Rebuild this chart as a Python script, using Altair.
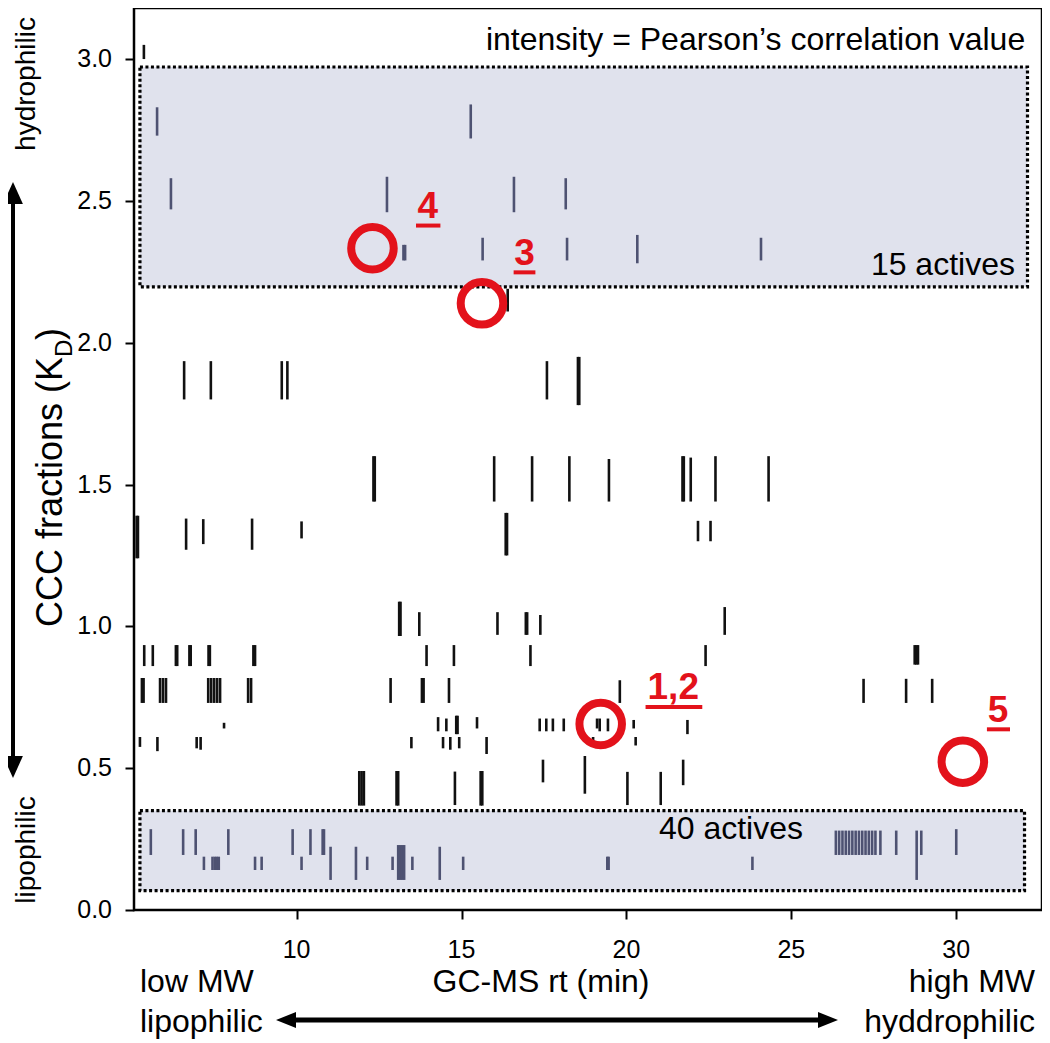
import altair as alt
import pandas as pd

FONT = "Liberation Sans"
RED = "#e3121b"

# ---------------- data ----------------
# peaks outside the shaded "active" regions: (rt [min], KD low, KD high)
other_peaks = [
    (5.37, 3.00, 3.05), (16.40, 2.11, 2.19),
    # ~1.8-1.94
    (6.59, 1.80, 1.935), (7.40, 1.80, 1.935), (9.55, 1.80, 1.935), (9.72, 1.80, 1.935),
    (17.59, 1.80, 1.935), (18.53, 1.78, 1.95), (18.57, 1.78, 1.95),
    # ~1.44-1.60
    (12.33, 1.44, 1.60), (12.37, 1.44, 1.60), (15.99, 1.44, 1.60), (17.14, 1.44, 1.60),
    (18.27, 1.44, 1.60), (19.47, 1.44, 1.59), (21.70, 1.44, 1.60), (21.74, 1.44, 1.60),
    (21.95, 1.44, 1.595), (22.70, 1.44, 1.60), (24.31, 1.44, 1.60),
    # ~1.25-1.39
    (5.15, 1.24, 1.39), (5.19, 1.24, 1.39), (6.65, 1.27, 1.38), (7.17, 1.29, 1.378),
    (8.65, 1.27, 1.38), (10.15, 1.31, 1.37), (16.34, 1.25, 1.40), (16.38, 1.25, 1.40),
    (22.17, 1.30, 1.372), (22.55, 1.30, 1.372),
    # ~0.97-1.08
    (13.11, 0.966, 1.087), (13.15, 0.966, 1.087), (13.72, 0.966, 1.05), (16.09, 0.97, 1.05),
    (16.95, 0.97, 1.05), (16.99, 0.97, 1.05), (17.39, 0.97, 1.04), (22.98, 0.97, 1.068),
    # ~0.86-0.93
    (5.38, 0.86, 0.934), (5.64, 0.86, 0.934), (6.34, 0.86, 0.934), (6.38, 0.86, 0.934),
    (6.75, 0.86, 0.934), (6.79, 0.86, 0.934), (7.33, 0.86, 0.934), (7.37, 0.86, 0.934),
    (8.69, 0.86, 0.934), (8.74, 0.86, 0.934), (13.94, 0.86, 0.934), (14.77, 0.86, 0.934),
    (17.09, 0.86, 0.934), (22.40, 0.86, 0.934), (28.74, 0.865, 0.934), (28.79, 0.865, 0.934),
    (28.84, 0.865, 0.934),
    # ~0.73-0.82
    (5.31, 0.73, 0.818), (5.36, 0.73, 0.818), (5.86, 0.73, 0.818), (5.95, 0.73, 0.818),
    (6.04, 0.73, 0.818), (7.32, 0.73, 0.818), (7.41, 0.73, 0.818), (7.50, 0.73, 0.818),
    (7.59, 0.73, 0.818), (7.68, 0.73, 0.818), (8.53, 0.73, 0.818), (8.62, 0.73, 0.818),
    (12.85, 0.73, 0.818), (13.80, 0.73, 0.818), (13.85, 0.73, 0.818), (14.62, 0.73, 0.818),
    (19.80, 0.73, 0.81), (27.19, 0.73, 0.815), (28.48, 0.73, 0.815), (29.27, 0.73, 0.815),
    # ~0.63-0.68
    (7.80, 0.64, 0.66), (14.29, 0.63, 0.68), (14.54, 0.63, 0.675), (14.84, 0.62, 0.685),
    (14.88, 0.62, 0.685), (15.47, 0.64, 0.68), (17.37, 0.63, 0.675), (17.57, 0.63, 0.675),
    (17.77, 0.63, 0.675), (18.10, 0.63, 0.675), (19.11, 0.64, 0.675), (19.19, 0.63, 0.675),
    (19.44, 0.63, 0.675), (20.22, 0.64, 0.67), (21.85, 0.62, 0.67),
    # ~0.56-0.61
    (5.25, 0.575, 0.61), (5.78, 0.56, 0.61), (6.97, 0.57, 0.61), (7.09, 0.565, 0.61),
    (13.48, 0.57, 0.61), (14.44, 0.57, 0.61), (14.66, 0.565, 0.61), (14.93, 0.57, 0.61),
    (15.76, 0.55, 0.61), (18.99, 0.595, 0.61), (20.28, 0.58, 0.61),
    # ~0.41-0.54
    (17.47, 0.45, 0.53), (18.74, 0.41, 0.543), (21.72, 0.44, 0.53),
    # ~0.37-0.49
    (11.90, 0.368, 0.49), (11.97, 0.368, 0.49), (12.04, 0.368, 0.49), (13.03, 0.368, 0.49),
    (13.08, 0.368, 0.49), (14.80, 0.37, 0.488), (15.58, 0.368, 0.49), (15.63, 0.368, 0.49),
    (20.03, 0.37, 0.487), (21.04, 0.37, 0.487),
]

# peaks inside the upper shaded region ("15 actives")
top_active_peaks = [
    (5.77, 2.73, 2.83), (6.19, 2.47, 2.58), (15.28, 2.72, 2.84), (12.74, 2.46, 2.585),
    (16.59, 2.46, 2.585), (18.16, 2.47, 2.58), (13.24, 2.29, 2.345), (13.29, 2.29, 2.345),
    (15.64, 2.29, 2.37), (18.20, 2.29, 2.37), (20.33, 2.28, 2.38), (24.08, 2.29, 2.37),
]

# peaks inside the lower shaded region ("40 actives")
bottom_active_peaks = [
    (5.58, 0.194, 0.285), (6.56, 0.194, 0.285), (6.94, 0.194, 0.285), (7.93, 0.194, 0.285),
    (9.88, 0.194, 0.285), (10.42, 0.194, 0.285), (10.79, 0.194, 0.285), (10.83, 0.194, 0.285),
    (26.35, 0.194, 0.28), (26.45, 0.194, 0.28), (26.55, 0.194, 0.28), (26.65, 0.194, 0.28),
    (26.75, 0.194, 0.28), (26.85, 0.194, 0.28), (26.95, 0.194, 0.28), (27.05, 0.194, 0.28),
    (27.15, 0.194, 0.28), (27.25, 0.194, 0.28), (27.35, 0.194, 0.28), (27.45, 0.194, 0.28),
    (27.55, 0.194, 0.28), (27.70, 0.194, 0.28), (28.18, 0.194, 0.28), (28.94, 0.194, 0.28),
    (30.00, 0.194, 0.285),
    (7.19, 0.141, 0.188), (7.45, 0.141, 0.188), (7.52, 0.141, 0.188), (7.58, 0.141, 0.188),
    (7.64, 0.141, 0.188), (8.74, 0.141, 0.188), (8.94, 0.141, 0.188), (10.15, 0.141, 0.188),
    (12.14, 0.141, 0.188), (12.91, 0.141, 0.188), (13.51, 0.141, 0.188), (15.05, 0.141, 0.188),
    (19.42, 0.141, 0.188), (19.46, 0.141, 0.188), (23.82, 0.141, 0.188),
    (11.03, 0.106, 0.223), (11.80, 0.106, 0.223), (13.08, 0.106, 0.229), (13.14, 0.106, 0.229),
    (13.20, 0.106, 0.229), (13.26, 0.106, 0.229), (14.34, 0.106, 0.223), (28.80, 0.106, 0.28),
]

# shaded "active" regions
box_rt_lo = [5.25, 5.25]
box_rt_hi = [32.16, 32.07]
box_kd_lo = [2.197, 0.068]
box_kd_hi = [2.972, 0.350]
box_text = ["15 actives", "40 actives"]
box_text_rt = [31.78, 23.17]
box_text_kd = [2.239, 0.25]

# highlighted compounds
cmp_label = ["4", "3", "1,2", "5"]
cmp_rt = [12.30, 15.62, 19.22, 30.20]
cmp_kd = [2.333, 2.139, 0.656, 0.523]
cmp_label_rt = [13.98, 16.91, 21.42, 31.27]
cmp_label_kd = [2.44, 2.274, 0.745, 0.662]
cmp_line_lo = [13.62, 16.58, 20.58, 30.93]
cmp_line_hi = [14.36, 17.24, 22.30, 31.63]
cmp_line_kd = [2.413, 2.248, 0.716, 0.637]

x_ticks = [10, 15, 20, 25, 30]
x_tick_labels = ["10", "15", "20", "25", "30"]
y_ticks = [0.0, 0.5, 1.0, 1.5, 2.0, 2.5, 3.0]
y_tick_labels = ["0.0", "0.5", "1.0", "1.5", "2.0", "2.5", "3.0"]

# ---------------- frames ----------------
rows = []
for name, lst in [("other", other_peaks), ("top", top_active_peaks), ("bottom", bottom_active_peaks)]:
    for rt, lo, hi in lst:
        rows.append({"rt": rt, "kd_lo": lo, "kd_hi": hi, "set": name})
peaks = pd.DataFrame(rows)

boxes = pd.DataFrame({"x0": box_rt_lo, "x1": box_rt_hi, "y0": box_kd_lo, "y1": box_kd_hi})
box_labels = pd.DataFrame({"t": box_text, "x": box_text_rt, "y": box_text_kd})
cmp = pd.DataFrame({"t": cmp_label, "x": cmp_rt, "y": cmp_kd, "lx": cmp_label_rt,
                    "ly": cmp_label_kd, "u0": cmp_line_lo, "u1": cmp_line_hi, "uy": cmp_line_kd})
xt = pd.DataFrame({"v": x_ticks, "t": x_tick_labels})
yt = pd.DataFrame({"v": y_ticks, "t": y_tick_labels})
one = pd.DataFrame({"k": [0]})

W, H = 908, 902
xs = alt.Scale(domain=[5.07, 32.6], nice=False, zero=False)
ys = alt.Scale(domain=[0, 3.18], nice=False, zero=False)


def x_axis():
    return alt.Axis(values=x_ticks, title=None, labels=False, grid=False, domain=False,
                    tickColor="black", tickSize=9, tickWidth=2)


def y_axis():
    return alt.Axis(values=y_ticks, title=None, labels=False, grid=False, domain=False,
                    tickColor="black", tickSize=9, tickWidth=2)


box_layer = alt.Chart(boxes).mark_rect(fill="#e0e2ed", stroke="black", strokeDash=[3, 2.5],
                                        strokeWidth=3.2).encode(
    x=alt.X("x0:Q", scale=xs, axis=x_axis()), x2="x1:Q",
    y=alt.Y("y0:Q", scale=ys, axis=y_axis()), y2="y1:Q")

peak_layer = alt.Chart(peaks).mark_rule(strokeWidth=2.6).encode(
    x=alt.X("rt:Q", scale=xs, axis=x_axis()),
    y=alt.Y("kd_lo:Q", scale=ys, axis=y_axis()), y2="kd_hi:Q",
    color=alt.Color("set:N", scale=alt.Scale(domain=["other", "top", "bottom"],
                                             range=["#111111", "#4e5272", "#4e5272"]), legend=None))

# tick labels (drawn as text so that their size is exact)
x_labels = alt.Chart(xt).mark_text(font=FONT, fontSize=25, align="center", baseline="alphabetic",
                                   color="black").encode(
    x=alt.X("v:Q", scale=xs, axis=x_axis()), y=alt.value(950), text="t:N")
y_labels = alt.Chart(yt).mark_text(font=FONT, fontSize=25, align="right", baseline="middle",
                                   color="black").encode(
    y=alt.Y("v:Q", scale=ys, axis=y_axis()), x=alt.value(-22), text="t:N")

box_text_a = alt.Chart(box_labels.iloc[[0]]).mark_text(font=FONT, fontSize=32, align="right",
                                                        baseline="alphabetic", color="black").encode(
    x=alt.X("x:Q", scale=xs), y=alt.Y("y:Q", scale=ys), text="t:N")
box_text_b = alt.Chart(box_labels.iloc[[1]]).mark_text(font=FONT, fontSize=32, align="center",
                                                        baseline="alphabetic", color="black").encode(
    x=alt.X("x:Q", scale=xs), y=alt.Y("y:Q", scale=ys), text="t:N")

intensity = alt.Chart(pd.DataFrame({"t": ["intensity = Pearson\u2019s correlation value"],
                                    "x": [32.09], "y": [3.032]})).mark_text(
    font=FONT, fontSize=32, align="right", baseline="alphabetic", color="black").encode(
    x=alt.X("x:Q", scale=xs), y=alt.Y("y:Q", scale=ys), text="t:N")

circles = alt.Chart(cmp).mark_point(shape="circle", filled=False, size=1810, strokeWidth=8,
                                    color=RED, opacity=1).encode(
    x=alt.X("x:Q", scale=xs), y=alt.Y("y:Q", scale=ys))
cmp_text = alt.Chart(cmp).mark_text(font=FONT, fontSize=37, fontWeight="bold", color=RED,
                                    align="center", baseline="alphabetic").encode(
    x=alt.X("lx:Q", scale=xs), y=alt.Y("ly:Q", scale=ys), text="t:N")
cmp_line = alt.Chart(cmp).mark_rule(color=RED, strokeWidth=4).encode(
    x=alt.X("u0:Q", scale=xs), x2="u1:Q", y=alt.Y("uy:Q", scale=ys))


def txt(s, x, y, size=32, angle=0, align="left", baseline="alphabetic"):
    return alt.Chart(one).mark_text(text=s, font=FONT, fontSize=size, angle=angle, align=align,
                                    baseline=baseline, color="black").encode(
        x=alt.value(x), y=alt.value(y))


def head(path, x, y, size):
    return alt.Chart(one).mark_point(shape=path, filled=True, size=size, color="black",
                                     opacity=1, strokeWidth=0).encode(x=alt.value(x), y=alt.value(y))


deco = [
    # y-axis title with subscript
    txt("CCC fractions (K", -72, 619, size=36, angle=270),
    txt("D", -62, 349, size=24, angle=270),
    txt(")", -72, 332, size=36, angle=270),
    # left arrow and labels
    txt("hydrophilic", -99, 76, size=28, angle=270, align="center"),
    txt("lipophilic", -99, 842, size=28, angle=270, align="center"),
    alt.Chart(one).mark_rule(strokeWidth=4, color="black").encode(
        x=alt.value(-121), y=alt.value(192), y2=alt.value(752)),
    head("M0,-1L0.9,1L-0.9,1Z", -121, 185, 484),
    head("M0,1L0.9,-1L-0.9,-1Z", -121, 759, 484),
    # bottom labels
    txt("GC-MS rt (min)", 407, 984, align="center"),
    txt("low MW", 6, 984),
    txt("lipophilic", 6, 1024),
    txt("high MW", 901, 984, align="right"),
    txt("hyddrophilic", 901, 1024, align="right"),
    alt.Chart(one).mark_rule(strokeWidth=5, color="black").encode(
        x=alt.value(158), x2=alt.value(688), y=alt.value(1012)),
    head("M-1,0L1,-0.8L1,0.8Z", 152, 1012, 400),
    head("M1,0L-1,-0.8L-1,0.8Z", 694, 1012, 400),
]

chart = alt.layer(
    box_layer, peak_layer, x_labels, y_labels, box_text_a, box_text_b, intensity, circles,
    cmp_text, cmp_line, *deco
).properties(
    width=W, height=H,
    autosize=alt.AutoSizeParams(type="none"),
    padding={"left": 126, "top": 0, "right": 0, "bottom": 133},
).configure_view(
    stroke="black", strokeWidth=2.5
)

chart.save("out.html", embed_options={"renderer": "svg", "actions": False})
